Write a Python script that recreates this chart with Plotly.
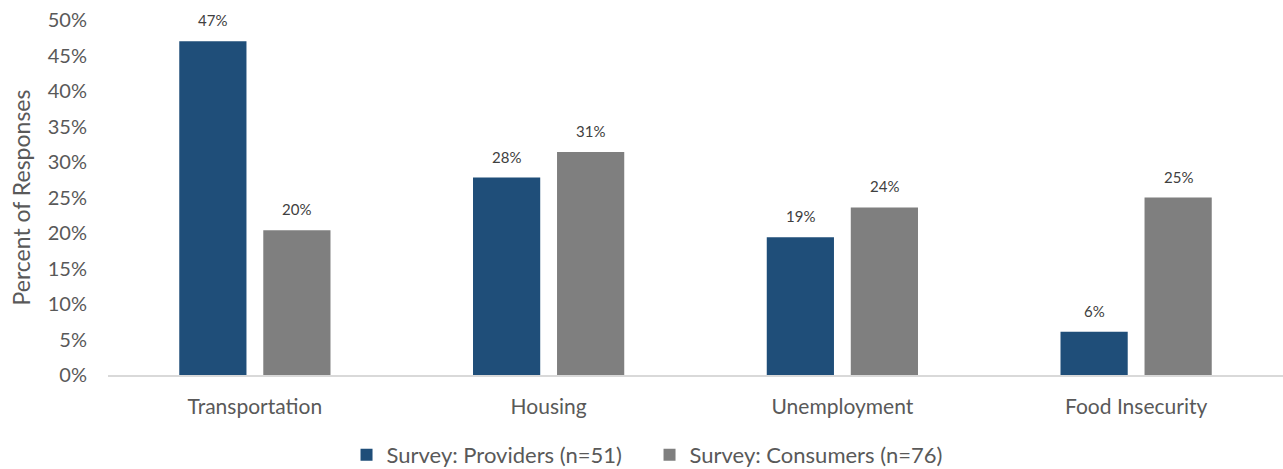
import plotly.graph_objects as go

categories = ["Transportation", "Housing", "Unemployment", "Food Insecurity"]
providers = [47.0, 27.8, 19.4, 6.1]
consumers = [20.4, 31.4, 23.6, 25.0]
series_names = ["Survey: Providers (n=51)", "Survey: Consumers (n=76)"]
y_ticks = [0, 5, 10, 15, 20, 25, 30, 35, 40, 45, 50]

FONT = "Lato, Open Sans, sans-serif"
TEXT = "#595959"
COLORS = ["#1f4e79", "#7f7f7f"]

W, H = 1283, 469
M_L, M_R, M_T, M_B = 108, 0, 20, 94
BARGAP, BARGROUPGAP = 0.428, 0.2

fig = go.Figure()
for name, vals, color in zip(series_names, [providers, consumers], COLORS):
    fig.add_trace(go.Bar(
        x=categories, y=vals, name=name,
        marker=dict(color=color, line=dict(width=0)),
        cliponaxis=False, hoverinfo="x+y",
    ))

# value labels placed above each bar, offset to the centre of its group slot
cat_px = (W - M_L - M_R) / len(categories)
slot_px = cat_px * (1 - BARGAP) / 2
for i, vals in enumerate([providers, consumers]):
    shift = (i - 0.5) * slot_px
    for c, v in zip(categories, vals):
        fig.add_annotation(
            x=c, y=v, xref="x", yref="y", text=f"{v:.0f}%",
            showarrow=False, xshift=shift, yshift=10, yanchor="bottom",
            font=dict(size=15, color="#404040", family=FONT),
        )

fig.update_layout(
    width=W, height=H,
    margin=dict(l=M_L, r=M_R, t=M_T, b=M_B, autoexpand=False),
    paper_bgcolor="white", plot_bgcolor="white",
    barmode="group", bargap=BARGAP, bargroupgap=BARGROUPGAP,
    font=dict(family=FONT, color=TEXT, size=21),
    showlegend=True,
    legend=dict(orientation="h", x=0.203, xanchor="left",
                y=-0.225, yanchor="middle",
                font=dict(size=22, color=TEXT), itemwidth=30,
                entrywidth=258, entrywidthmode="pixels", traceorder="normal"),
    xaxis=dict(showline=True, linecolor="#d9d9d9", linewidth=1.5, ticks="",
               tickfont=dict(size=21, color=TEXT), ticklabelstandoff=12,
               showgrid=False, automargin=False),
    yaxis=dict(range=[0, 50], tickvals=y_ticks, ticktext=[f"{t}%" for t in y_ticks],
               showgrid=False, zeroline=False, showline=False, ticks="",
               tickfont=dict(size=20, color=TEXT), ticklabelstandoff=20,
               automargin=False,
               title=dict(text="Percent of Responses", font=dict(size=23, color=TEXT),
                          standoff=10)),
)

fig.write_html("out.html")
